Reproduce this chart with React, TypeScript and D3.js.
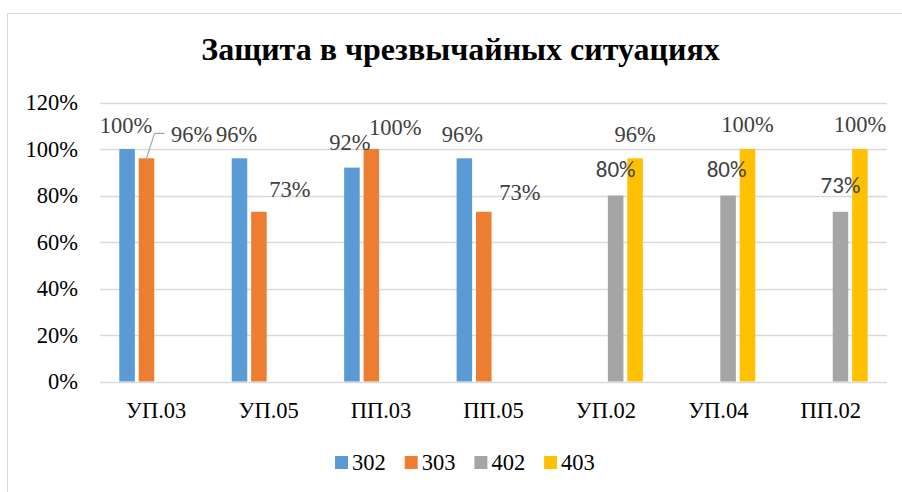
import React from "react";
import * as d3 from "d3";

const categories = ["УП.03", "УП.05", "ПП.03", "ПП.05", "УП.02", "УП.04", "ПП.02"];
const seriesNames = ["302", "303", "402", "403"];
const s302: (number | null)[] = [1.0, 0.96, 0.92, 0.96, null, null, null];
const s303: (number | null)[] = [0.96, 0.73, 1.0, 0.73, null, null, null];
const s402: (number | null)[] = [null, null, null, null, 0.8, 0.8, 0.73];
const s403: (number | null)[] = [null, null, null, null, 0.96, 1.0, 1.0];
const yTicks = [0, 0.2, 0.4, 0.6, 0.8, 1.0, 1.2];
const title = "Защита в чрезвычайных ситуациях";

const colors = ["#5B9BD5", "#ED7D31", "#A5A5A5", "#FFC000"];
// manual label nudges (style, not data) [dx, dy]
const nudges: [number, number][][] = [
  [[-1, 0], [-3, 0], [-2, -1.5], [-2, 0], [0, 0], [0, 0], [0, 0]],
  [[45, 0], [31, 1], [24, 2], [36, 4], [0, 0], [0, 0], [0, 0]],
  [[0, 0], [0, 0], [0, 0], [0, 0], [0, -2.5], [-1.5, -2.5], [0, -3]],
  [[0, 0], [0, 0], [0, 0], [0, 0], [0, 0], [0, -1], [0, -1]],
];

const W = 902;
const H = 492;
const serif = '"Liberation Serif"';
const sans = '"Carlito"';

export default function App() {
  const series = [s302, s303, s402, s403];
  const x0 = d3.scaleBand<string>().domain(categories).range([100, 887]).padding(0);
  const bw0 = x0.bandwidth();
  const x1 = d3
    .scaleBand<string>()
    .domain(seriesNames)
    .range([19.3, bw0 - 19.3])
    .paddingInner(0.2)
    .paddingOuter(0);
  const y = d3.scaleLinear().domain([0, 1.2]).range([381.5, 102.5]);
  const fmt = d3.format(".0%");

  const bars: React.ReactNode[] = [];
  const labels: React.ReactNode[] = [];
  series.forEach((vals, si) => {
    vals.forEach((v, ci) => {
      if (v == null) return;
      const bx = (x0(categories[ci]) ?? 0) + (x1(seriesNames[si]) ?? 0);
      const w = x1.bandwidth();
      bars.push(
        <rect
          key={`b${si}-${ci}`}
          x={bx}
          y={y(v)}
          width={w}
          height={y(0) - y(v)}
          fill={colors[si]}
        />
      );
      const [dx, dy] = nudges[si][ci];
      labels.push(
        <text
          key={`l${si}-${ci}`}
          x={bx + w / 2 + dx}
          y={y(v) - 16 + dy}
          textAnchor="middle"
          style={{ fontFamily: si === 2 ? sans : serif, fontSize: si === 2 ? 23 : 22.5 }}
          fill="#404040"
        >
          {fmt(v)}
        </text>
      );
    });
  });

  // leader line for the first orange label
  const lbx = (x0(categories[0]) ?? 0) + (x1(seriesNames[1]) ?? 0) + x1.bandwidth() / 2;
  const lby = y(s303[0] as number);
  const leader = `M${lbx},${lby} L${lbx + 8},${lby - 25} L${lbx + 18},${lby - 25}`;

  return (
    <div style={{ position: "absolute", left: 0, top: 0, width: W, height: H, fontFamily: serif }}>
      <svg width={W} height={H} style={{ display: "block", background: "#fff" }}>
        <rect x={7.5} y={13.5} width={W + 20} height={H + 20} fill="#fff" stroke="#d9d9d9" strokeWidth={1} />
        <text
          x={460.5}
          y={60}
          textAnchor="middle"
          style={{ fontFamily: serif, fontWeight: 700, fontSize: 32 }}
          fill="#000"
        >
          {title}
        </text>
        {yTicks.map((t) => (
          <g key={`t${t}`}>
            <line x1={100} x2={887} y1={Math.round(y(t)) + 0.5} y2={Math.round(y(t)) + 0.5} stroke="#d9d9d9" strokeWidth={1.3} />
            <text
              x={78}
              y={y(t) + 7.5}
              textAnchor="end"
              style={{ fontFamily: serif, fontSize: 22.5 }}
              fill="#000"
            >
              {fmt(t)}
            </text>
          </g>
        ))}
        {bars}
        <path d={leader} fill="none" stroke="#a6a6a6" strokeWidth={1.2} />
        {labels}
        {categories.map((c) => (
          <text
            key={`c${c}`}
            x={(x0(c) ?? 0) + bw0 / 2}
            y={418}
            textAnchor="middle"
            style={{ fontFamily: serif, fontSize: 22.5 }}
            fill="#000"
          >
            {c}
          </text>
        ))}
        {seriesNames.map((s, i) => (
          <g key={`lg${s}`} transform={`translate(${335 + i * 69.7},0)`}>
            <rect x={0} y={456} width={13} height={13} fill={colors[i]} />
            <text x={17} y={470} style={{ fontFamily: serif, fontSize: 22.5 }} fill="#000">
              {s}
            </text>
          </g>
        ))}
      </svg>
    </div>
  );
}
